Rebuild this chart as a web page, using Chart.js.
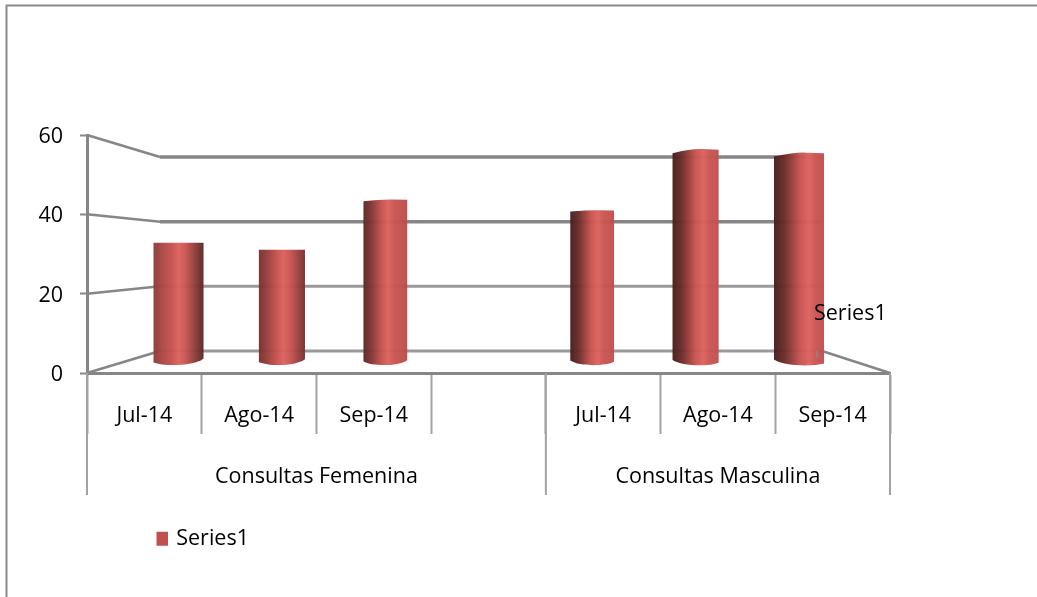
<!DOCTYPE html>
<html><head><meta charset="utf-8">
<style>html,body{margin:0;padding:0;background:#fff}canvas{display:block}</style>
<script src="https://cdn.jsdelivr.net/npm/chart.js@4"></script>
</head><body><canvas id="c" width="1037" height="597"></canvas>
<script>
const categories = ["Jul-14","Ago-14","Sep-14","","Jul-14","Ago-14","Sep-14"];
const groups = ["Consultas Femenina","Consultas Masculina"];
const groupStarts = [0,4];
const groupEnds = [3,6];
const seriesName = "Series1";
const seriesValues = [33,31,45,null,42,59,58];
const yTicks = [0,20,40,60];

const FONT = '"Open Sans"';
const FS = 21.5;
const GRID = '#868686';
const LIGHT = '#a2a2a2';

function hex(c){return [1,3,5].map(i=>parseInt(c.substr(i,2),16));}
function mix(a,b,t){t=Math.max(0,Math.min(1,t));const A=hex(a),B=hex(b);
  return 'rgb('+A.map((v,i)=>Math.round(v+(B[i]-v)*t)).join(',')+')';}

const scene = {
  id:'scene',
  beforeLayout(chart){
    if(chart.legend && !chart.legend._wrapped){
      const f = chart.legend.fit;
      chart.legend.fit = function(){f.call(this);this.height=40;};
      chart.legend._wrapped = true;
    }
  },
  afterLayout(chart){
    const l = chart.legend; const w = l.right-l.left;
    l.left = 156.5; l.right = 156.5+w; l.top = 528; l.bottom = 568;
  },
  beforeDraw(chart){
    const c = chart.ctx;
    c.save();c.strokeStyle='#8c8c8c';c.lineWidth=2;
    c.beginPath();c.moveTo(6.5,597);c.lineTo(6.5,5.5);c.lineTo(1037,5.5);c.stroke();c.restore();
  },
  beforeDatasetsDraw(chart){
    const c = chart.ctx, a = chart.chartArea, y = chart.scales.y, yb = chart.scales.yBack;
    const bl = a.left+73, br = a.right-68;
    c.save();c.lineCap='butt';
    yTicks.forEach(v=>{
      const fy = y.getPixelForValue(v), by = yb.getPixelForValue(v);
      c.lineWidth = v>=40 ? 3.5 : 3;
      c.strokeStyle = v>=40 ? GRID : '#9a9a9a';
      c.beginPath();c.moveTo(bl,by);c.lineTo(br,by);c.stroke();
      c.lineWidth = 2.5;
      c.strokeStyle = GRID;
      c.beginPath();c.moveTo(a.left,fy);c.lineTo(bl,by);c.stroke();
      if(v===0){c.beginPath();c.moveTo(a.right,fy);c.lineTo(br,by);c.stroke();}
    });
    c.restore();
  },
  beforeDatasetDraw(chart,args){
    const c = chart.ctx, meta = args.meta, vals = seriesValues;
    const x0 = meta.data[0].x, x1 = meta.data[6].x, mid = (x0+x1)/2;
    meta.data.forEach((el,i)=>{
      if(vals[i]==null) return;
      const t = (el.x-x0)/(x1-x0);
      const dist = Math.abs(el.x-mid)/((x1-x0)/2);
      const w = 43+7*dist*dist;
      const hw = w/2, L = el.x-hw, R = el.x+hw, top = el.y, base = el.base;
      const drop = Math.max(0,(235-top)/21);
      const g = c.createLinearGradient(L,0,R,0);
      const p = 0.5+0.2*t;
      g.addColorStop(0, mix('#8a3c39','#471e1c',t*2));
      g.addColorStop(p*0.3, mix('#a84643','#6a2c2a',t*2));
      g.addColorStop(p*0.75, '#c8534f');
      g.addColorStop(p, '#dc625e');
      g.addColorStop(Math.min(.98,p+.14), '#c95552');
      g.addColorStop(1, mix('#5a2726','#c0504d',(t-.1)*4));
      c.save();
      c.globalAlpha = .97;
      c.fillStyle = g;
      c.beginPath();
      c.moveTo(L,top+drop);
      c.quadraticCurveTo(el.x-hw*.1,top-drop*.2,el.x+hw*.3,top);
      c.lineTo(R,top+drop*.15);
      const leftEnd = base-(2*t)+(1-t), rightEnd = base-1-(1-t)*2+t*3;
      c.lineTo(R,rightEnd);
      c.bezierCurveTo(R-w*.2,base+5,L+w*.2,base+5,L,leftEnd);
      c.closePath();
      c.fill();
      c.restore();
    });
    return false;
  },
  afterDraw(chart){
    const c = chart.ctx, x = chart.scales.x, a = chart.chartArea;
    const step = (a.right-a.left)/categories.length;
    const edge = i => x.getPixelForValue(i)-step/2;
    c.save();
    c.strokeStyle = LIGHT;c.lineWidth = 2;
    const rowBottom = a.bottom+122;
    [...groupStarts, groupEnds[groupEnds.length-1]+1].forEach(i=>{
      const px = edge(i);
      c.beginPath();c.moveTo(px,a.bottom);c.lineTo(px,rowBottom);c.stroke();
    });
    c.fillStyle='#000';c.font=FS+'px '+FONT;c.textAlign='center';c.textBaseline='middle';
    groups.forEach((g,i)=>{
      c.fillText(g,(edge(groupStarts[i])+edge(groupEnds[i]+1))/2,a.bottom+103.5);
    });
    const last = chart.getDatasetMeta(0).data[6];
    c.textAlign='left';
    c.fillText(seriesName,last.x+15,314);
    c.strokeStyle='#8a8a8a';c.lineWidth=1.5;
    c.beginPath();c.moveTo(last.x+18,last.base-11);c.lineTo(last.x+18,last.base-4);c.stroke();
    c.restore();
  }
};

new Chart(document.getElementById('c'),{
  type:'bar',
  data:{labels:categories,datasets:[{
    label:seriesName,
    data:seriesValues.map((v,i)=>({x:i,y:v})),
    backgroundColor:'#c0504d',
    xAxisID:'xBars',yAxisID:'yBars',
    borderWidth:0
  }]},
  plugins:[scene],
  options:{
    responsive:false,animation:false,
    layout:{padding:{left:27,right:147,top:135,bottom:0}},
    plugins:{
      tooltip:{enabled:false},
      legend:{display:true,position:'bottom',align:'start',
        labels:{usePointStyle:true,pointStyle:'rect',boxWidth:9,boxHeight:14,padding:0,color:'#000',font:{family:'Open Sans',size:FS}}}
    },
    scales:{
      x:{type:'category',position:'bottom',offset:true,
        grid:{offset:true,drawOnChartArea:false,drawTicks:true,tickLength:61,tickColor:LIGHT,tickWidth:2},
        border:{display:true,color:GRID,width:3},
        ticks:{color:'#000',font:{family:'Open Sans',size:FS},padding:-31,autoSkip:false,maxRotation:0},
        afterFit(s){s.height=184;}
      },
      y:{type:'linear',position:'left',min:0,max:60,
        grid:{drawOnChartArea:false,tickLength:7,tickColor:GRID,tickWidth:2},
        border:{display:true,color:GRID,width:3},
        afterBuildTicks(s){s.ticks=yTicks.map(v=>({value:v}));},
        ticks:{color:'#000',font:{family:'Open Sans',size:FS},padding:17,labelOffset:2},
        afterFit(s){s.width=60;}
      },
      xBars:{type:'linear',display:false,offset:false,min:-0.885,max:6.88,position:'bottom'},
      yBars:{type:'linear',display:false,min:-3.2,max:62.9,position:'left',beginAtZero:false},
      yBack:{type:'linear',display:false,min:-6.804,max:66.804,position:'left'}
    }
  }
});
</script></body></html>
